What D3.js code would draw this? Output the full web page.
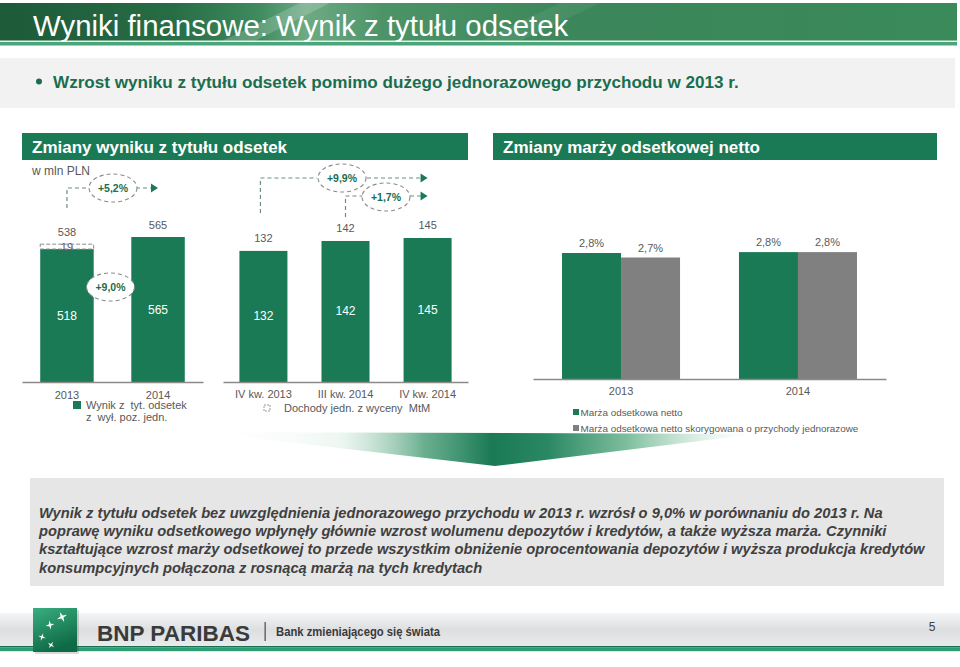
<!DOCTYPE html>
<html><head><meta charset="utf-8">
<script src="https://cdn.jsdelivr.net/npm/d3@7"></script>
<style>body{margin:0;background:#fff}svg{display:block;font-family:"Liberation Sans",Arial,sans-serif}</style>
</head><body><svg id="c" width="960" height="667"></svg>
<script>
// ---- data ----
const annualCategories = ["2013", "2014"];
const annualCore = [518, 565];
const annualOneOff = [19, 0];
const annualTotalLabels = ["538", "565"];
const annualChange = "+5,2%";
const coreChange = "+9,0%";
const quarterCategories = ["IV kw. 2013", "III kw. 2014", "IV kw. 2014"];
const quarterValues = [132, 142, 145];
const quarterChangeYoY = "+9,9%";
const quarterChangeQoQ = "+1,7%";
const nimCategories = ["2013", "2014"];
const nimSeries = ["Marża odsetkowa netto", "Marża odsetkowa netto skorygowana o przychody jednorazowe"];
const nimValues = [2.80, 2.82];
const nimAdjusted = [2.70, 2.82];
const nimLabels = [["2,8%", "2,7%"], ["2,8%", "2,8%"]];
const textLines = [
  "Wynik z tytułu odsetek bez uwzględnienia jednorazowego przychodu w 2013 r. wzrósł o 9,0% w porównaniu do 2013 r. Na",
  "poprawę wyniku odsetkowego wpłynęły głównie wzrost wolumenu depozytów i kredytów, a także wyższa marża. Czynniki",
  "kształtujące wzrost marży odsetkowej to przede wszystkim obniżenie oprocentowania depozytów i wyższa produkcja kredytów",
  "konsumpcyjnych połączona z rosnącą marżą na tych kredytach"
];

const GREEN = "#1a7a55", GRAY = "#808080", TXT = "#595959", DASH = "#6f8f7e";
const svg = d3.select("#c");
const defs = svg.append("defs");

// ---- banner ----
const bg = defs.append("linearGradient").attr("id", "ban").attr("x1", 0).attr("x2", 1).attr("y1", 0).attr("y2", 0);
[[0, "#1d5a38"], [0.18, "#276c45"], [0.27, "#3f8a5e"], [0.32, "#6eaa84"], [0.4, "#4c9468"], [0.6, "#3b865a"], [1, "#3a8a5a"]]
  .forEach(([o, c]) => bg.append("stop").attr("offset", o).attr("stop-color", c));
svg.append("rect").attr("x", 0).attr("y", 3).attr("width", 957).attr("height", 38).attr("fill", "url(#ban)");
svg.append("path").attr("d", "M300,3 L330,3 L255,41 L222,41 Z").attr("fill", "#ffffff").attr("opacity", 0.18);
svg.append("path").attr("d", "M560,3 L600,3 L520,41 L480,41 Z").attr("fill", "#ffffff").attr("opacity", 0.07);
svg.append("rect").attr("x", 0).attr("y", 40.5).attr("width", 957).attr("height", 1.5).attr("fill", "#e4f2ea");
svg.append("rect").attr("x", 0).attr("y", 42).attr("width", 957).attr("height", 3.5).attr("fill", "#4aa57b");
svg.append("text").attr("x", 33).attr("y", 36).attr("fill", "#fff").attr("font-size", 29.4).text("Wyniki finansowe: Wynik z tytułu odsetek");

// ---- bullet box ----
svg.append("rect").attr("x", 0).attr("y", 58).attr("width", 955).attr("height", 50).attr("fill", "#f2f2f2");
svg.append("circle").attr("cx", 39).attr("cy", 81.5).attr("r", 3).attr("fill", "#1a6e4e");
svg.append("text").attr("x", 53).attr("y", 87.5).attr("fill", "#1a6e4e").attr("font-size", 17.1).attr("font-weight", "bold")
  .text("Wzrost wyniku z tytułu odsetek pomimo dużego jednorazowego przychodu w 2013 r.");

// ---- section headers ----
svg.append("rect").attr("x", 22).attr("y", 133).attr("width", 446).attr("height", 27).attr("fill", GREEN);
svg.append("text").attr("x", 32).attr("y", 153).attr("fill", "#fff").attr("font-size", 17).attr("font-weight", "bold").text("Zmiany wyniku z tytułu odsetek");
svg.append("rect").attr("x", 493).attr("y", 133).attr("width", 444).attr("height", 27).attr("fill", GREEN);
svg.append("text").attr("x", 503).attr("y", 153).attr("fill", "#fff").attr("font-size", 17).attr("font-weight", "bold").text("Zmiany marży odsetkowej netto");
svg.append("text").attr("x", 32).attr("y", 175).attr("fill", TXT).attr("font-size", 12).text("w mln PLN");

// ---- decorative wedge ----
const wg = defs.append("linearGradient").attr("id", "wedge").attr("gradientUnits", "userSpaceOnUse")
  .attr("x1", 200).attr("x2", 760).attr("y1", 0).attr("y2", 0);
[[0, "#ffffff", 0], [0.25, "#dcefe5", 0.5], [0.4, "#5aa683", 0.9], [0.52, "#1a7a55", 1], [0.62, "#2a8763", 1], [0.76, "#6db592", 0.9], [0.9, "#cfe8da", 0.6], [1, "#ffffff", 0]]
  .forEach(([o, c, op]) => wg.append("stop").attr("offset", o).attr("stop-color", c).attr("stop-opacity", op));
svg.append("path").attr("d", "M200,432 L757,434 L495,466 Z").attr("fill", "url(#wedge)");

function styleAxis(g) {
  g.select(".domain").attr("stroke", "#8a8a8a").attr("stroke-width", 1.3);
  g.selectAll("text").attr("fill", TXT).attr("font-size", 11).attr("font-family", "Liberation Sans, Arial, sans-serif");
}
function ellipse(cx, cy, label) {
  svg.append("ellipse").attr("cx", cx).attr("cy", cy).attr("rx", 24).attr("ry", 14)
    .attr("fill", "#fff").attr("stroke", "#8a8a8a").attr("stroke-dasharray", "4,3").attr("stroke-width", 1.1);
  svg.append("text").attr("x", cx).attr("y", cy + 4).attr("text-anchor", "middle").attr("fill", "#1a6e4e")
    .attr("font-size", 10.5).attr("font-weight", "bold").text(label);
}
function connector(d) {
  svg.append("path").attr("d", d).attr("fill", "none").attr("stroke", DASH).attr("stroke-width", 1.2).attr("stroke-dasharray", "4,3");
}
function arrow(x, y) {
  svg.append("path").attr("d", `M${x - 7},${y - 4.5} L${x},${y} L${x - 7},${y + 4.5} Z`).attr("fill", GREEN);
}

// ---- chart 1: annual ----
const x1 = d3.scaleBand().domain(annualCategories).range([22, 203]).paddingInner(0.413).paddingOuter(0.2);
const y1 = d3.scaleLinear().domain([0, 565]).range([382, 237]);
const c1 = svg.append("g");
annualCategories.forEach((c, i) => {
  const x = x1(c), w = x1.bandwidth();
  c1.append("rect").attr("x", x).attr("y", y1(annualCore[i])).attr("width", w).attr("height", y1(0) - y1(annualCore[i])).attr("fill", GREEN);
  c1.append("text").attr("x", x + w / 2).attr("y", (y1(annualCore[i]) + y1(0)) / 2 + 4).attr("text-anchor", "middle")
    .attr("fill", "#fff").attr("font-size", 12).text(annualCore[i]);
  const top = y1(annualCore[i] + annualOneOff[i]);
  if (annualOneOff[i] > 0) {
    c1.append("rect").attr("x", x).attr("y", top).attr("width", w).attr("height", y1(annualCore[i]) - top)
      .attr("fill", "#fff").attr("stroke", "#8a8a8a").attr("stroke-dasharray", "4,2").attr("stroke-width", 1);
    c1.append("text").attr("x", x + w / 2).attr("y", (top + y1(annualCore[i])) / 2 + 4.5).attr("text-anchor", "middle")
      .attr("fill", TXT).attr("font-size", 11).text(annualOneOff[i]);
  }
  c1.append("text").attr("x", x + w / 2).attr("y", top - 8).attr("text-anchor", "middle").attr("fill", TXT).attr("font-size", 11).text(annualTotalLabels[i]);
});
c1.append("g").attr("transform", "translate(0,382)").call(d3.axisBottom(x1).tickSize(0).tickPadding(9)).call(styleAxis);
c1.append("rect").attr("x", 73).attr("y", 401).attr("width", 8).attr("height", 8).attr("fill", GREEN);
c1.append("text").attr("x", 86).attr("y", 409).attr("fill", TXT).attr("font-size", 11).attr("xml:space", "preserve").text("Wynik z  tyt. odsetek");
c1.append("text").attr("x", 86).attr("y", 421).attr("fill", TXT).attr("font-size", 11).attr("xml:space", "preserve").text("z  wył. poz. jedn.");

const a0 = x1(annualCategories[0]) + x1.bandwidth() / 2;
connector(`M${a0},208 V188 H90`);
connector(`M136,188 H152`);
arrow(158, 188);
ellipse(113, 188, annualChange);
ellipse((x1(annualCategories[0]) + x1.bandwidth() + x1(annualCategories[1])) / 2 - 2, 287, coreChange);

// ---- chart 2: quarterly ----
const x2 = d3.scaleBand().domain(quarterCategories).range([223, 468]).paddingInner(0.415).paddingOuter(0.2);
const y2 = d3.scaleLinear().domain([0, 145]).range([382, 238]);
const c2 = svg.append("g");
quarterCategories.forEach((c, i) => {
  const x = x2(c), w = x2.bandwidth(), v = quarterValues[i];
  c2.append("rect").attr("x", x).attr("y", y2(v)).attr("width", w).attr("height", y2(0) - y2(v)).attr("fill", GREEN);
  c2.append("text").attr("x", x + w / 2).attr("y", (y2(v) + y2(0)) / 2 + 4).attr("text-anchor", "middle").attr("fill", "#fff").attr("font-size", 12).text(v);
  c2.append("text").attr("x", x + w / 2).attr("y", y2(v) - 9).attr("text-anchor", "middle").attr("fill", TXT).attr("font-size", 11).text(v);
});
c2.append("g").attr("transform", "translate(0,382)").call(d3.axisBottom(x2).tickSize(0).tickPadding(8)).call(styleAxis);
c2.append("rect").attr("x", 264).attr("y", 405).attr("width", 6).attr("height", 6).attr("fill", "none").attr("stroke", "#9a9a9a").attr("stroke-dasharray", "2,1");
c2.append("text").attr("x", 284).attr("y", 412).attr("fill", TXT).attr("font-size", 11).attr("xml:space", "preserve").text("Dochody jedn. z wyceny  MtM");

const q0 = x2(quarterCategories[0]) + x2.bandwidth() / 2, q1 = x2(quarterCategories[1]) + x2.bandwidth() / 2, q2 = x2(quarterCategories[2]) + x2.bandwidth() / 2;
connector(`M${q0 - 3},213 V178 H317`);
connector(`M367,178 H${q2 - 6}`);
arrow(q2, 178);
connector(`M${q1},217 V196 H363`);
connector(`M410,196 H${q2 - 6}`);
arrow(q2, 196);
ellipse(342, 178, quarterChangeYoY);
ellipse(386, 197, quarterChangeQoQ);

// ---- chart 3: NIM ----
const x3 = d3.scaleBand().domain(nimCategories).range([533, 886]).paddingInner(0.333).paddingOuter(0.164);
const xs = d3.scaleBand().domain([0, 1]).range([0, x3.bandwidth()]);
const y3 = d3.scaleLinear().domain([0, 2.8]).range([379, 253]);
const c3 = svg.append("g");
nimCategories.forEach((c, i) => {
  [nimValues[i], nimAdjusted[i]].forEach((v, j) => {
    const x = x3(c) + xs(j), w = xs.bandwidth();
    c3.append("rect").attr("x", x).attr("y", y3(v)).attr("width", w).attr("height", y3(0) - y3(v)).attr("fill", j === 0 ? GREEN : GRAY);
    c3.append("text").attr("x", x + w / 2).attr("y", y3(v) - 6).attr("text-anchor", "middle").attr("fill", TXT).attr("font-size", 11).text(nimLabels[i][j]);
  });
});
c3.append("g").attr("transform", "translate(0,379)").call(d3.axisBottom(x3).tickSize(0).tickPadding(8)).call(styleAxis);
nimSeries.forEach((s, j) => {
  c3.append("rect").attr("x", 573).attr("y", 409 + j * 16).attr("width", 6).attr("height", 6).attr("fill", j === 0 ? GREEN : GRAY);
  c3.append("text").attr("x", 580.5).attr("y", 416 + j * 16).attr("fill", TXT).attr("font-size", 9.9).text(s);
});

// ---- bottom text box ----
svg.append("rect").attr("x", 30).attr("y", 478).attr("width", 914).attr("height", 108).attr("fill", "#e6e6e6");
textLines.forEach((t, i) => {
  svg.append("text").attr("x", 39).attr("y", 518 + i * 18.2).attr("fill", "#404040").attr("font-size", 14.7)
    .attr("font-weight", "bold").attr("font-style", "italic").text(t);
});

// ---- footer ----
const fg = defs.append("linearGradient").attr("id", "foot").attr("x1", 0).attr("x2", 0).attr("y1", 0).attr("y2", 1);
[[0, "#f5f6f7"], [0.5, "#dcdee0"], [1, "#e9eaeb"]].forEach(([o, c]) => fg.append("stop").attr("offset", o).attr("stop-color", c));
svg.append("rect").attr("x", 0).attr("y", 613).attr("width", 960).attr("height", 33).attr("fill", "url(#foot)");
svg.append("rect").attr("x", 0).attr("y", 646).attr("width", 960).attr("height", 1.2).attr("fill", "#17704f");
svg.append("rect").attr("x", 0).attr("y", 647.2).attr("width", 960).attr("height", 4).attr("fill", "#2f9e76");
const lg = defs.append("linearGradient").attr("id", "logo").attr("x1", 0).attr("x2", 0.4).attr("y1", 0).attr("y2", 1);
[[0, "#3aae80"], [1, "#0e6a46"]].forEach(([o, c]) => lg.append("stop").attr("offset", o).attr("stop-color", c));
svg.append("rect").attr("x", 35).attr("y", 610).attr("width", 44).attr("height", 44).attr("fill", "#000").attr("opacity", 0.15);
svg.append("rect").attr("x", 33).attr("y", 608).attr("width", 44).attr("height", 44).attr("fill", "url(#logo)");
function star(cx, cy, s, rot) {
  const pts = d3.range(8).map(k => {
    const a = rot + k * Math.PI / 4, r = k % 2 === 0 ? s : s * 0.3;
    return [cx + r * Math.cos(a), cy + r * Math.sin(a)];
  });
  svg.append("path").attr("d", "M" + pts.join("L") + "Z").attr("fill", "#fff");
}
star(62, 617, 5.5, -0.4);
star(50, 625, 4.5, -0.2);
star(42, 637, 4, 0.3);
star(51, 645, 3.8, 0.6);
svg.append("text").attr("x", 97).attr("y", 641).attr("fill", "#3a3a3a").attr("font-size", 22.5).attr("font-weight", "bold").text("BNP PARIBAS");
svg.append("rect").attr("x", 264.5).attr("y", 622).attr("width", 1.3).attr("height", 19).attr("fill", "#555");
svg.append("text").attr("x", 276).attr("y", 636).attr("fill", "#3a3a3a").attr("font-size", 13).attr("font-weight", "bold")
  .attr("textLength", 164).attr("lengthAdjust", "spacingAndGlyphs").text("Bank zmieniającego się świata");
svg.append("text").attr("x", 932).attr("y", 631).attr("text-anchor", "middle").attr("fill", "#404040").attr("font-size", 12).text("5");
</script></body></html>
